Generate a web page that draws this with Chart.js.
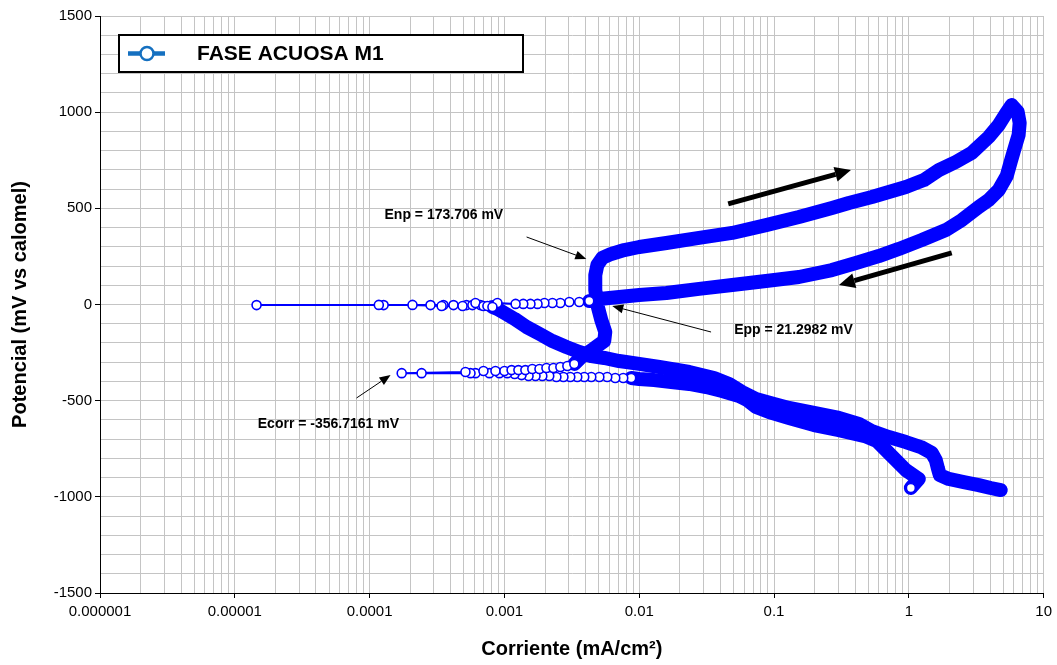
<!DOCTYPE html>
<html>
<head>
<meta charset="utf-8">
<title>FASE ACUOSA M1</title>
<script src="https://cdn.jsdelivr.net/npm/chart.js@4.4.0/dist/chart.umd.min.js"></script>
<style>
  html, body { margin: 0; padding: 0; background: #ffffff; }
  canvas { display: block; }
</style>
</head>
<body>
<canvas id="chart" width="1057" height="665"></canvas>
<script>
// Cyclic polarisation scan: current density (mA/cm²) against potential (mV vs calomel).
const seriesName = 'FASE ACUOSA M1';

// [current mA/cm², potential mV] in scan order
const scanStart = [[1.035, -954]];
const cathodicBand = [
  [1.186, -907], [0.950, -861], [0.710, -772], [0.579, -710], [0.472, -684],
  [0.303, -653], [0.198, -627], [0.129, -590], [0.0918, -559], [0.0735, -533],
  [0.0631, -497], [0.0550, -476], [0.0412, -450], [0.0314, -429], [0.0235, -413],
  [0.0173, -403], [0.0129, -393], [0.0100, -387]
];
const cathodicRow = [
  [0.00872, -382], [0.00761, -382], [0.00664, -382], [0.00579, -377], [0.00506, -377],
  [0.00441, -377], [0.00391, -377], [0.00347, -377], [0.00308, -377], [0.00274, -377],
  [0.00243, -377], [0.00215, -372], [0.00191, -372], [0.00170, -372], [0.00151, -372],
  [0.00134, -367], [0.00119, -361], [0.00105, -357], [0.000918, -357], [0.000774, -357],
  [0.000610, -357], [0.000560, -357], [0.000243, -357], [0.000173, -357]
];
const anodicRow = [
  [0.000514, -351], [0.000699, -346], [0.000858, -346], [0.00100, -346], [0.00113, -341],
  [0.00127, -341], [0.00143, -341], [0.00161, -335], [0.00182, -335], [0.00205, -330],
  [0.00231, -330], [0.00260, -325], [0.00293, -320], [0.00330, -309]
];
const anodicBand = [
  [0.00372, -273], [0.00456, -231], [0.00550, -190], [0.00560, -143], [0.00523, -81],
  [0.00489, -3], [0.00472, 75], [0.00472, 153], [0.00489, 205], [0.00532, 242],
  [0.00620, 263], [0.00774, 283], [0.0100, 299], [0.0159, 320], [0.0278, 346],
  [0.0489, 372], [0.0872, 413], [0.153, 455], [0.269, 502], [0.359, 528],
  [0.532, 559], [0.950, 611], [1.292, 647], [1.668, 699], [2.229, 741],
  [2.929, 788], [3.911, 871], [4.642, 933], [5.231, 991], [5.79, 1037]
];
const reverseBand = [
  [6.42, 1001], [6.64, 944], [6.52, 881], [6.10, 814], [5.69, 741],
  [5.32, 668], [4.642, 595], [3.911, 543], [3.30, 507], [2.47, 439],
  [1.88, 387], [1.248, 335], [0.843, 289], [0.599, 252], [0.405, 216],
  [0.269, 179], [0.153, 143], [0.0872, 122], [0.0489, 101], [0.0278, 81],
  [0.0159, 60], [0.0100, 49], [0.00710, 39], [0.00506, 29]
];
const reverseRow = [
  [0.00426, 18], [0.00359, 13], [0.00303, 13], [0.00260, 8], [0.00227, 8],
  [0.00198, 8], [0.00176, 3], [0.00156, 3], [0.00138, 3], [0.00121, 3],
  [0.000887, 8], [0.000664, -3], [0.000523, -3], [0.000419, -3], [0.000353, -3],
  [0.000283, -3], [0.000127, -3], [0.0000145, -3]
];
const returnRow = [
  [0.000117, -2], [0.000208, -2], [0.000342, -8], [0.000489, -8], [0.000579, -3],
  [0.000610, 8], [0.000699, -8], [0.000748, -8], [0.000815, -13]
];
const returnBand = [
  [0.000887, -23], [0.00100, -44], [0.00119, -75], [0.00146, -117], [0.00182, -153],
  [0.00227, -190], [0.00288, -221], [0.00359, -247], [0.00441, -268], [0.00550, -278],
  [0.00710, -294], [0.0100, -309], [0.0141, -325], [0.0235, -351], [0.0359, -382],
  [0.0464, -413], [0.0579, -455], [0.0735, -491], [0.100, -517], [0.129, -538],
  [0.198, -564], [0.303, -590], [0.426, -621], [0.532, -658], [0.710, -689],
  [0.950, -715], [1.227, -741], [1.480, -772], [1.585, -809], [1.640, -850],
  [1.697, -887], [1.978, -907], [2.555, -923], [3.30, -939], [4.047, -954],
  [4.803, -965]
];

// axis ticks
const currentTickLabels = ['0.000001', '0.00001', '0.0001', '0.001', '0.01', '0.1', '1', '10'];
const potentialTickLabels = ['-1500', '-1000', '-500', '0', '500', '1000', '1500'];

// notes on the plot, placed in data units
const noteTexts = [
  { text: 'Enp = 173.706 mV', at: [0.000129, 465] },
  { text: 'Epp = 21.2982 mV', at: [0.0506, -133] },
  { text: 'Ecorr = -356.7161 mV', at: [0.0000148, -621] }
];
const pointerArrows = [
  { from: [0.00146, 351], to: [0.00405, 237] },
  { from: [0.0341, -143], to: [0.00631, -8] },
  { from: [0.0000800, -486], to: [0.000143, -367] }
];
const scanArrows = [
  { from: [0.0457, 523], to: [0.372, 699] },
  { from: [2.08, 268], to: [0.303, 101] }
];

// dense stretches are drawn as a solid band, sparse stretches as open markers
const pieces = [
  { pts: scanStart, dense: false },
  { pts: cathodicBand, dense: true },
  { pts: cathodicRow, dense: false },
  { pts: anodicRow, dense: false },
  { pts: anodicBand, dense: true },
  { pts: reverseBand, dense: true },
  { pts: reverseRow, dense: false },
  { pts: returnRow, dense: false },
  { pts: returnBand, dense: true }
];
const points = [];
const dense = [];
pieces.forEach(p => p.pts.forEach(([x, y]) => { points.push({ x, y }); dense.push(p.dense); }));

const BLUE = '#0000ff';
const FONT = "'Liberation Sans', Arial, sans-serif";

function isDecade(v) {
  const l = Math.log10(v);
  return Math.abs(l - Math.round(l)) < 1e-6;
}

function drawArrow(ctx, x0, y0, x1, y1, lw, headLen, headHalf) {
  const a = Math.atan2(y1 - y0, x1 - x0);
  const bx = x1 - headLen * Math.cos(a);
  const by = y1 - headLen * Math.sin(a);
  ctx.lineWidth = lw;
  ctx.beginPath();
  ctx.moveTo(x0, y0);
  ctx.lineTo(bx, by);
  ctx.stroke();
  ctx.beginPath();
  ctx.moveTo(x1, y1);
  ctx.lineTo(bx + headHalf * Math.sin(a), by - headHalf * Math.cos(a));
  ctx.lineTo(bx - headHalf * Math.sin(a), by + headHalf * Math.cos(a));
  ctx.closePath();
  ctx.fill();
}

const notesPlugin = {
  id: 'notes',
  afterDatasetsDraw(chart) {
    const { ctx, scales: { x, y } } = chart;
    const px = p => [x.getPixelForValue(p[0]), y.getPixelForValue(p[1])];
    ctx.save();
    ctx.fillStyle = '#000';
    ctx.strokeStyle = '#000';
    pointerArrows.forEach(a => {
      const [x0, y0] = px(a.from), [x1, y1] = px(a.to);
      drawArrow(ctx, x0, y0, x1, y1, 1, 11, 4.5);
    });
    scanArrows.forEach(a => {
      const [x0, y0] = px(a.from), [x1, y1] = px(a.to);
      drawArrow(ctx, x0, y0, x1, y1, 5, 16, 7.5);
    });
    ctx.font = 'bold 14px ' + FONT;
    ctx.textAlign = 'left';
    ctx.textBaseline = 'middle';
    noteTexts.forEach(n => {
      const [tx, ty] = px(n.at);
      ctx.fillText(n.text, tx, ty);
    });
    ctx.restore();
  }
};

const legendPlugin = {
  id: 'boxLegend',
  afterDraw(chart) {
    const { ctx, chartArea } = chart;
    const left = chartArea.left + 18, top = chartArea.top + 18, w = 406, h = 39;
    const cy = top + h / 2;
    ctx.save();
    ctx.fillStyle = '#fff';
    ctx.fillRect(left, top, w, h);
    ctx.strokeStyle = '#000';
    ctx.lineWidth = 2;
    ctx.strokeRect(left + 1, top + 1, w - 2, h - 2);
    ctx.strokeStyle = '#1570c0';
    ctx.lineWidth = 4.5;
    ctx.beginPath();
    ctx.moveTo(left + 10, cy);
    ctx.lineTo(left + 47, cy);
    ctx.stroke();
    ctx.beginPath();
    ctx.arc(left + 29, cy, 6.5, 0, Math.PI * 2);
    ctx.fillStyle = '#fff';
    ctx.fill();
    ctx.lineWidth = 2.5;
    ctx.stroke();
    ctx.fillStyle = '#000';
    ctx.font = 'bold 21px ' + FONT;
    ctx.textAlign = 'left';
    ctx.textBaseline = 'middle';
    ctx.fillText(seriesName, left + 79, cy + 1);
    ctx.restore();
  }
};

new Chart(document.getElementById('chart'), {
  type: 'scatter',
  data: {
    datasets: [{
      label: seriesName,
      data: points,
      showLine: true,
      borderColor: BLUE,
      borderWidth: 2,
      borderCapStyle: 'round',
      borderJoinStyle: 'round',
      pointStyle: 'circle',
      pointRadius: ctx => dense[ctx.dataIndex] ? 0 : 4.5,
      pointBorderWidth: 1.6,
      pointBorderColor: BLUE,
      pointBackgroundColor: '#ffffff',
      segment: {
        borderWidth: ctx => (dense[ctx.p0DataIndex] || dense[ctx.p1DataIndex]) ? 14 : 2
      }
    }]
  },
  options: {
    responsive: false,
    devicePixelRatio: 1,
    animation: false,
    events: [],
    layout: { padding: { left: 0, top: 16, right: 12, bottom: 0 } },
    plugins: { legend: { display: false }, tooltip: { enabled: false } },
    scales: {
      x: {
        type: 'logarithmic',
        position: 'bottom',
        min: 1e-6,
        max: 10,
        afterBuildTicks: scale => {
          const t = [];
          for (let e = -6; e <= 0; e++) {
            for (let s = 1; s <= 9; s++) t.push({ value: s * Math.pow(10, e) });
          }
          t.push({ value: 10 });
          scale.ticks = t;
        },
        afterFit: scale => { scale.height = 72; },
        ticks: {
          autoSkip: false,
          maxRotation: 0,
          minRotation: 0,
          padding: 5,
          color: '#000',
          font: { family: FONT, size: 15 },
          callback: v => isDecade(v) ? currentTickLabels[Math.round(Math.log10(v)) + 6] : ''
        },
        grid: {
          color: '#c4c4c4',
          lineWidth: 1,
          tickLength: 5,
          tickColor: ctx => (ctx.tick && isDecade(ctx.tick.value)) ? '#000' : 'rgba(0,0,0,0)'
        },
        border: { color: '#000', width: 1 },
        title: {
          display: true,
          text: 'Corriente (mA/cm²)',
          color: '#000',
          font: { family: FONT, size: 20, weight: 'bold' },
          padding: { top: 0, bottom: 4 }
        }
      },
      y: {
        type: 'linear',
        min: -1500,
        max: 1500,
        afterBuildTicks: scale => {
          const t = [];
          for (let v = -1500; v <= 1500; v += 100) t.push({ value: v });
          scale.ticks = t;
        },
        afterFit: scale => { scale.width = 100; },
        ticks: {
          autoSkip: false,
          padding: 3,
          color: '#000',
          font: { family: FONT, size: 15 },
          callback: v => {
            const i = potentialTickLabels.indexOf(String(v));
            return i >= 0 ? potentialTickLabels[i] : '';
          }
        },
        grid: {
          color: '#c4c4c4',
          lineWidth: 1,
          tickLength: 5,
          tickColor: ctx => (ctx.tick && ctx.tick.value % 500 === 0) ? '#000' : 'rgba(0,0,0,0)'
        },
        border: { color: '#000', width: 1 },
        title: {
          display: true,
          text: 'Potencial (mV vs calomel)',
          color: '#000',
          font: { family: FONT, size: 20, weight: 'bold' },
          padding: { top: 8, bottom: 0 }
        }
      }
    }
  },
  plugins: [notesPlugin, legendPlugin]
});
</script>
</body>
</html>
